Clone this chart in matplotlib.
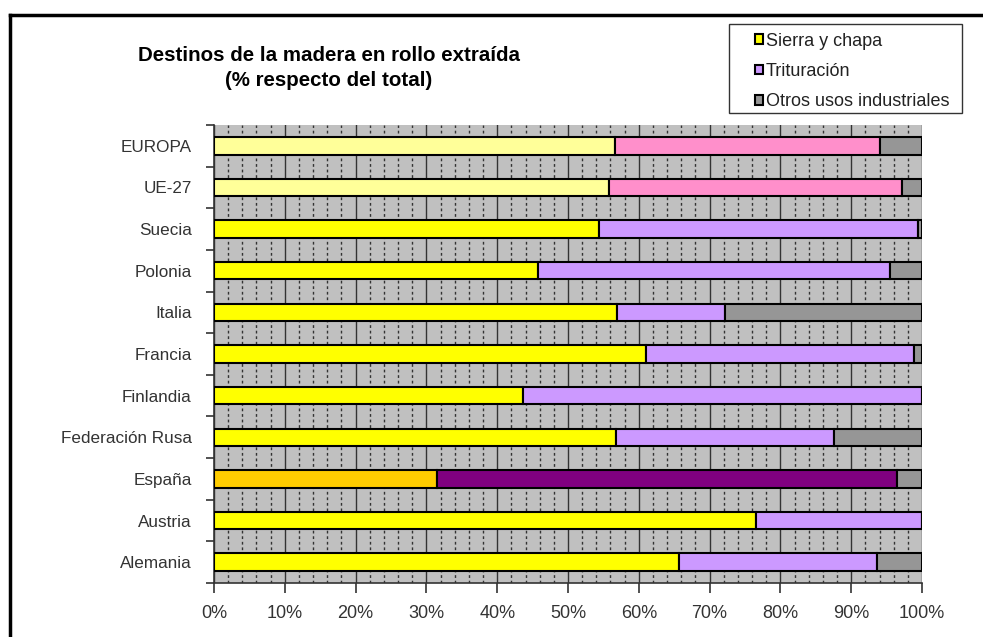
import numpy as np
import matplotlib
matplotlib.use("Agg")
import matplotlib.pyplot as plt
from matplotlib.patches import Patch, Rectangle
from matplotlib.lines import Line2D
from matplotlib.ticker import MultipleLocator, PercentFormatter

plt.rcParams["font.family"] = ["Liberation Sans", "DejaVu Sans"]

# categories bottom -> top (as drawn)
paises = ["Alemania", "Austria", "España", "Federación Rusa", "Finlandia",
          "Francia", "Italia", "Polonia", "Suecia", "UE-27", "EUROPA"]
sierra = [65.7, 76.6, 31.5, 56.8, 43.6, 61.0, 56.9, 45.8, 54.4, 55.8, 56.7]
trituracion = [27.9, 23.4, 64.9, 30.8, 56.4, 37.9, 15.3, 49.7, 45.0, 41.4, 37.3]
otros = [6.4, 0.0, 3.6, 12.4, 0.0, 1.1, 27.8, 4.5, 0.6, 2.8, 6.0]
series_names = ["Sierra y chapa", "Trituración", "Otros usos industriales"]

# colours; a few bars are highlighted differently
base_colors = ["#FFFF00", "#CC99FF", "#969696"]
highlight = {
    "España": ["#FFCC00", "#800080", "#969696"],
    "UE-27": ["#FFFF99", "#FF8FCB", "#969696"],
    "EUROPA": ["#FFFF99", "#FF8FCB", "#969696"],
}

fig = plt.figure(figsize=(9.83, 6.37), dpi=100)
ax = fig.add_axes([214 / 983, 54 / 637, 708 / 983, 458 / 637])
ax.set_facecolor("#C0C0C0")

y = np.arange(len(paises))
left = np.zeros(len(paises))
for k, vals in enumerate([sierra, trituracion, otros]):
    cols = [highlight.get(p, base_colors)[k] for p in paises]
    ax.barh(y, vals, left=left, height=0.42, color=cols, edgecolor="black",
            linewidth=1.5, zorder=3)
    left += np.array(vals)

ax.set_xlim(0, 100)
ax.set_ylim(-0.5, len(paises) - 0.5)
ax.xaxis.set_major_locator(MultipleLocator(10))
ax.xaxis.set_minor_locator(MultipleLocator(2))
ax.xaxis.set_major_formatter(PercentFormatter(decimals=0))
ax.grid(which="major", axis="x", color="#333333", linewidth=1.0, zorder=1)
ax.grid(which="minor", axis="x", color="#333333", linewidth=1.0,
        linestyle=(0, (2, 2)), zorder=1)
ax.set_axisbelow(True)

# category labels centred, tick marks between categories
ax.set_yticks(y)
ax.set_yticklabels(paises)
ax.set_yticks(np.arange(-0.5, len(paises)), minor=True)
ax.tick_params(axis="y", which="major", length=0, pad=16, labelsize=12.3,
               labelcolor="#333333")
ax.tick_params(axis="y", which="minor", length=6, width=1.2, color="#333333")
ax.tick_params(axis="x", which="major", length=7, width=1.2, pad=9,
               labelsize=13, labelcolor="#333333", color="#333333")
ax.tick_params(axis="x", which="minor", length=0)

for s in ["top", "right"]:
    ax.spines[s].set_visible(False)
for s in ["left", "bottom"]:
    ax.spines[s].set_color("#333333")
    ax.spines[s].set_linewidth(1.2)

fig.text(329 / 983, 1 - 68 / 637,
         "Destinos de la madera en rollo extraída\n(% respecto del total)",
         ha="center", va="center", fontsize=14.8, fontweight="bold",
         linespacing=1.4)

# legend: frame drawn separately so the entries can sit inset like the original
fig.add_artist(Rectangle((729 / 983, 1 - 113 / 637), 233 / 983, 89 / 637,
                         transform=fig.transFigure, facecolor="white",
                         edgecolor="#333333", linewidth=1.0))
handles = [Patch(facecolor=c, edgecolor="black", linewidth=1.5) for c in base_colors]
leg = fig.legend(handles, series_names, loc="center left",
                 bbox_to_anchor=(755 / 983, 1 - 71.5 / 637), fontsize=13,
                 frameon=False, handlelength=0.45, handleheight=0.45,
                 handletextpad=0.15, labelspacing=0.74, borderpad=0,
                 borderaxespad=0)
for t in leg.get_texts():
    t.set_color("#222222")

# outer chart border (top and left visible)
fig.add_artist(Line2D([9.5 / 983, 1.0], [1 - 14.5 / 637] * 2, color="black",
                      linewidth=2.5, transform=fig.transFigure))
fig.add_artist(Line2D([9.5 / 983] * 2, [0, 1 - 14.5 / 637], color="black",
                      linewidth=2.5, transform=fig.transFigure))

fig.savefig("out.png", dpi=100)
